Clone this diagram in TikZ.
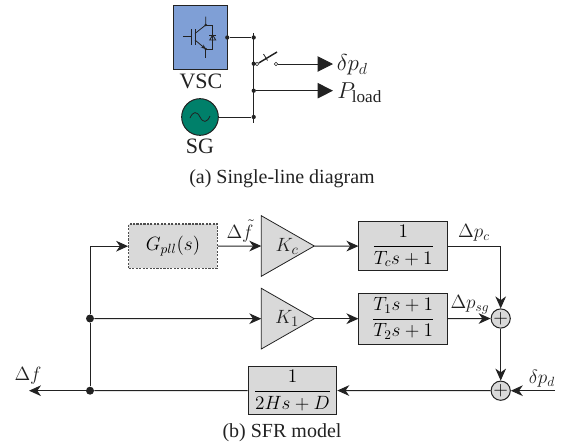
\documentclass[tikz,border=0pt]{standalone}
\usepackage{fontspec}
\setmainfont{Liberation Serif}
\usetikzlibrary{arrows.meta,calc}
\definecolor{vscblue}{HTML}{7F9FD6}
\definecolor{sggreen}{HTML}{00806A}
\definecolor{blockgray}{HTML}{D9D9D9}
\definecolor{ink}{HTML}{222222}
\tikzset{
 px/.style={x=0.75pt,y=-0.75pt},
 line/.style={draw=ink,line width=0.75pt},
 thin line/.style={draw=ink,line width=0.6pt},
 flow/.style={line,-{Stealth[length=9pt,width=8pt,inset=2.8pt]}},
 bigflow/.style={line,-{Triangle[length=11.5pt,width=11.5pt]}},
 block/.style={draw=ink,line width=0.75pt,fill=blockgray,inner sep=0pt,minimum width=66.4pt},
 dashblock/.style={block,dash pattern=on 1.6pt off 1pt,line width=0.9pt,draw=ink!80},
 gain/.style={draw=ink,line width=0.6pt,fill=blockgray},
 sumnode/.style={circle,draw=ink,line width=0.75pt,fill=blockgray,minimum size=14.2pt,inner sep=0pt},
 bigdot/.style={circle,fill=ink,minimum size=6pt,inner sep=0pt},
 smalldot/.style={circle,fill=ink,minimum size=3.2pt,inner sep=0pt},
 contact/.style={circle,draw=ink,fill=white,line width=0.4pt,minimum size=2.6pt,inner sep=0pt},
 lab/.style={inner sep=0pt,text=ink,font=\fontsize{14.5}{16}\selectfont},
 biglab/.style={inner sep=0pt,text=ink,font=\fontsize{16.5}{18}\selectfont},
 headlab/.style={inner sep=0pt,text=ink,font=\fontsize{18.4}{20}\selectfont},
 captext/.style={inner sep=0pt,text=ink,font=\fontsize{15}{17}\selectfont},
}
\begin{document}
\begin{tikzpicture}[px]
\useasboundingbox (0,0) rectangle (564,447);
% ---------- (a) ----------
\node[draw=ink,line width=0.75pt,fill=vscblue,inner sep=0pt,minimum width=40.5pt,minimum height=47.7pt] (vsc) at (200.3,37.5) {};
\node[draw=ink,line width=0.75pt,fill=sggreen,circle,minimum size=27.5pt,inner sep=0pt] (sg) at (200,117) {};
\draw[thin line] (190,118) .. controls (193,111) and (197,111) .. (200,117) .. controls (203,123) and (207,123) .. (210,116);
\node[biglab] (vsclab) at (201,81) {VSC};
\node[biglab] (sglab) at (200,146) {SG};
% IGBT
\draw[thin line] (183,36.7) -- (191.5,36.7) (191.5,29) -- (191.5,45);
\draw[thin line] (195,29) -- (195,45);
\draw[thin line] (205.7,16.7) -- (205.7,25) -- (195,33.5);
\draw[thin line,-{Stealth[length=3.5pt,width=3pt]}] (195,40) -- (205.7,49);
\draw[thin line] (205.7,49) -- (205.7,58);
\draw[thin line] (205.7,25) -- (212.7,25) -- (212.7,49) -- (205.7,49);
\draw[thin line] (209.7,40) -- (215.7,40) -- (212.7,35) -- cycle;
\draw[thin line] (209.2,35) -- (216.2,35);
\node[smalldot,minimum size=2pt] (ct) at (205.7,25) {};
\node[smalldot,minimum size=2pt] (et) at (205.7,49) {};
% bus
\coordinate (bustop) at (253.7,33);
\coordinate (busbot) at (253.7,122.7);
\draw[line] (bustop) -- (busbot);
\node[smalldot] (vscout) at (227.3,37.5) {};
\node[smalldot] (b1) at (253.7,37.5) {};
\node[smalldot] (b2) at (253.7,63.7) {};
\node[smalldot] (b3) at (253.7,90.7) {};
\node[smalldot] (b4) at (253.7,117) {};
\draw[line] (vscout) -- (b1);
\draw[line] (sg) -- (b4);
\node[contact] (swl) at (257,64) {};
\node[contact] (swr) at (276,64) {};
\coordinate (blade) at (277,52);
\coordinate (tickA) at (263.5,54);
\coordinate (tickB) at (267.5,60.5);
\draw[line] (b2) -- (swl);
\draw[line,line width=1.1pt] (swl) -- (blade);
\draw[thin line] (tickA) -- (tickB);
\node[headlab,anchor=west] (dpdhead) at (336.5,65) {$\delta p_d$};
\node[headlab,anchor=west] (pload) at (337,93) {$P_{\mathrm{load}}$};
\coordinate (dpdtip) at (333,64);
\coordinate (ploadtip) at (333,90.7);
\draw[bigflow] (swr) -- (dpdtip);
\draw[bigflow] (b3) -- (ploadtip);
\node[captext] (capa) at (282,179) {(a) Single-line diagram};
% ---------- (b) ----------
\node[dashblock,minimum height=33.2pt] (gpll) at (173,246.2) {\fontsize{14.5}{16}\selectfont$G_{pll}(s)$};
\draw[gain] (261.3,215.7) coordinate (kca) -- (314.3,246) coordinate (kctip) -- (261.3,276.3) coordinate (kcb) -- cycle;
\draw[gain] (261.3,288.3) coordinate (k1a) -- (314.3,318.7) coordinate (k1tip) -- (261.3,349) coordinate (k1b) -- cycle;
\coordinate (kcin) at (261.3,246);
\coordinate (k1in) at (261.3,318.7);
\node[lab] (kc) at (287,246) {\fontsize{15.5}{17}\selectfont$K_c$};
\node[lab] (k1) at (287,318.5) {\fontsize{15.5}{17}\selectfont$K_1$};
\node[block,minimum height=36.8pt] (tc) at (403.2,246.2) {\fontsize{14}{16}\selectfont$\displaystyle\frac{1}{T_c s+1}$};
\node[block,minimum height=38pt] (t12) at (403.2,318.7) {\fontsize{14}{16}\selectfont$\displaystyle\frac{T_1 s+1}{T_2 s+1}$};
\node[block,minimum height=35.7pt] (inert) at (292.5,390.5) {\fontsize{14}{16}\selectfont$\displaystyle\frac{1}{2Hs+D}$};
\node[sumnode,font=\fontsize{14}{16}\selectfont] (s1) at (500.7,318.5) {$+$};
\node[sumnode,font=\fontsize{14}{16}\selectfont] (s2) at (500.7,390.7) {$+$};
\node[bigdot] (j1) at (90,318.5) {};
\node[bigdot] (j2) at (90,390.7) {};
\coordinate (corner) at (90,246.2);
\coordinate (outp) at (29,390.7);
\coordinate (inp) at (555,390.7);
\coordinate (pcorner) at (500.7,246.2);
\draw[line] (j2) -- (j1);
\draw[flow] (j1) -- (corner) -- (gpll);
\draw[flow] (j1) -- (k1in);
\draw[flow] (j2) -- (outp);
\draw[flow] (gpll) -- (kcin);
\draw[flow] (kctip) -- (tc);
\draw[flow] (k1tip) -- (t12);
\draw[flow] (tc) -- (pcorner) -- (s1);
\draw[flow] (t12) -- (s1);
\draw[flow] (s1) -- (s2);
\draw[flow] (inp) -- (s2);
\draw[flow] (s2) -- (inert);
\draw[line] (inert) -- (j2);
\node[lab] (df) at (28,376) {$\Delta f$};
\node[lab] (dft) at (240,231) {$\Delta\tilde f$};
\node[lab] (dpc) at (474,233) {$\Delta p_c$};
\node[lab] (dpsg) at (470,305) {$\Delta p_{sg}$};
\node[lab] (dpd) at (542,379) {$\delta p_d$};
\node[captext] (capb) at (282,433) {(b) SFR model};
\end{tikzpicture}
\end{document}
